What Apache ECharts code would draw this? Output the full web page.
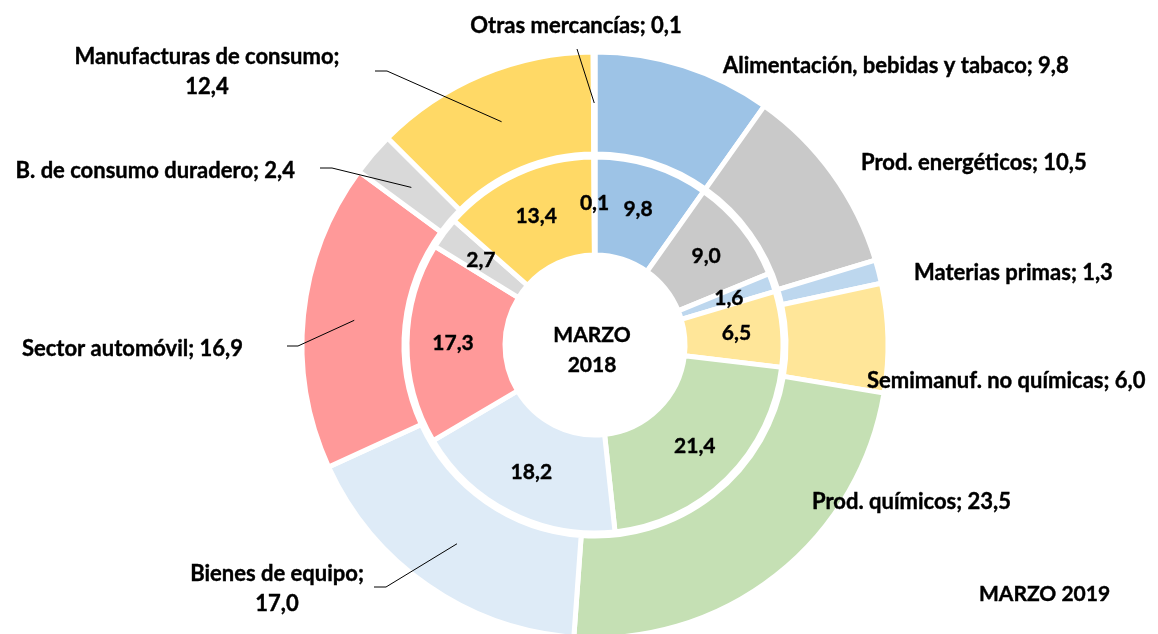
<!DOCTYPE html>
<html lang="es">
<head>
    <meta charset="UTF-8">
    <title>Exportaciones por sectores - marzo</title>
    <script src="https://cdn.jsdelivr.net/npm/echarts@6/dist/echarts.min.js"></script>
    <style>
        html, body { margin: 0; padding: 0; background: #fff; }
        #chart { width: 1158px; height: 634px; }
    </style>
</head>
<body>
<div id="chart"></div>
<script>
    /* sectores, en orden de las agujas del reloj desde arriba */
    const sectores = [
        'Alimentación, bebidas y tabaco',
        'Prod. energéticos',
        'Materias primas',
        'Semimanuf. no químicas',
        'Prod. químicos',
        'Bienes de equipo',
        'Sector automóvil',
        'B. de consumo duradero',
        'Manufacturas de consumo',
        'Otras mercancías'
    ];
    /* anillo interior: marzo 2018 */
    const valores2018 = [9.8, 9.0, 1.6, 6.5, 21.4, 18.2, 17.3, 2.7, 13.4, 0.1];
    /* anillo exterior: marzo 2019 */
    const valores2019 = [9.8, 10.5, 1.3, 6.0, 23.5, 17.0, 16.9, 2.4, 12.4, 0.1];

    const colores = ['#9DC3E6', '#C9C9C9', '#BDD7EE', '#FFE699', '#C5E0B4',
        '#DEEBF7', '#FF9999', '#D9D9D9', '#FFD966', '#F4B183'];

    /* etiquetas exteriores: x, y, align, inicio de la linea guia (null = sin linea) */
    const etiquetasPos = [
        [723, 66, 'left', null],
        [861, 163, 'left', null],
        [914, 273, 'left', null],
        [867, 381, 'left', null],
        [812, 502, 'left', null],
        [277, 589, 'center', [374, 587, 386]],
        [243, 349, 'right', [287, 346, 298]],
        [295, 171, 'right', [320, 168, 332]],
        [207, 72, 'center', [375, 71, 387]],
        [576, 26, 'center', [577, 49, 577]]
    ];
    const conSalto = [5, 8];

    const centro = [595, 345];
    const radioInt = [90, 188];
    const radioExt = [191, 293];
    const fuente = 'Lato';
    const fmt = v => v.toFixed(1).replace('.', ',');

    const textoNegrita = {
        fontFamily: fuente,
        fontWeight: 'bold',
        color: '#000',
        textBorderColor: '#000',
        textBorderWidth: 0.4
    };

    /* punto medio de cada sector exterior, para el extremo de la linea guia */
    const total2019 = valores2019.reduce((a, b) => a + b, 0);
    function puntoMedio(idx) {
        let acum = 0;
        for (let i = 0; i < idx; i++) acum += valores2019[i];
        const frac = (acum + valores2019[idx] / 2) / total2019;
        const ang = Math.PI / 2 - frac * Math.PI * 2;
        const r = (radioExt[0] + radioExt[1]) / 2;
        return [centro[0] + r * Math.cos(ang), centro[1] - r * Math.sin(ang)];
    }

    const chart = echarts.init(document.getElementById('chart'));
    const option = {
        backgroundColor: '#fff',
        animation: false,
        title: [{
            text: 'MARZO\n2018',
            left: centro[0] - 3,
            top: centro[1] + 5,
            padding: 0,
            textAlign: 'center',
            textVerticalAlign: 'middle',
            textStyle: Object.assign({ fontSize: 21, lineHeight: 30 }, textoNegrita)
        }, {
            text: 'MARZO 2019',
            left: 979,
            top: 584,
            padding: 0,
            textStyle: Object.assign({ fontSize: 21 }, textoNegrita)
        }],
        series: [{
            name: 'MARZO 2018',
            type: 'pie',
            center: centro,
            radius: radioInt,
            startAngle: 90,
            clockwise: true,
            avoidLabelOverlap: false,
            itemStyle: { borderColor: '#fff', borderWidth: 5 },
            label: Object.assign({
                show: true,
                position: 'inside',
                formatter: p => fmt(p.value),
                fontSize: 21
            }, textoNegrita),
            labelLine: { show: false },
            data: sectores.map((s, i) => ({
                name: s,
                value: valores2018[i],
                itemStyle: { color: colores[i] }
            }))
        }, {
            name: 'MARZO 2019',
            type: 'pie',
            center: centro,
            radius: radioExt,
            startAngle: 90,
            clockwise: true,
            avoidLabelOverlap: false,
            itemStyle: { borderColor: '#fff', borderWidth: 5 },
            label: { show: false },
            labelLine: { show: false },
            data: sectores.map((s, i) => ({
                name: s,
                value: valores2019[i],
                itemStyle: { color: colores[i] }
            }))
        }, {
            /* misma serie exterior, transparente, solo para etiquetas y lineas guia por encima */
            name: 'MARZO 2019 etiquetas',
            type: 'pie',
            z: 5,
            silent: true,
            center: centro,
            radius: radioExt,
            startAngle: 90,
            clockwise: true,
            avoidLabelOverlap: false,
            itemStyle: { color: 'rgba(0,0,0,0)', borderWidth: 0 },
            label: Object.assign({
                show: true,
                position: 'outside',
                formatter: p => p.name + ';' + (conSalto.indexOf(p.dataIndex) >= 0 ? '\n' : ' ') + fmt(p.value),
                fontSize: 22,
                lineHeight: 30
            }, textoNegrita),
            labelLine: {
                show: true,
                length: 15,
                length2: 12,
                lineStyle: { color: '#000', width: 1 }
            },
            labelLayout: function (params) {
                const p = etiquetasPos[params.dataIndex];
                const res = { x: p[0], y: p[1], align: p[2], verticalAlign: 'middle' };
                if (p[3]) {
                    const fin = puntoMedio(params.dataIndex);
                    res.labelLinePoints = [[p[3][0], p[3][1]], [p[3][2], p[3][1]], fin];
                }
                return res;
            },
            data: sectores.map((s, i) => ({
                name: s,
                value: valores2019[i],
                labelLine: { show: etiquetasPos[i][3] !== null }
            }))
        }]
    };
    chart.setOption(option);
</script>
</body>
</html>
